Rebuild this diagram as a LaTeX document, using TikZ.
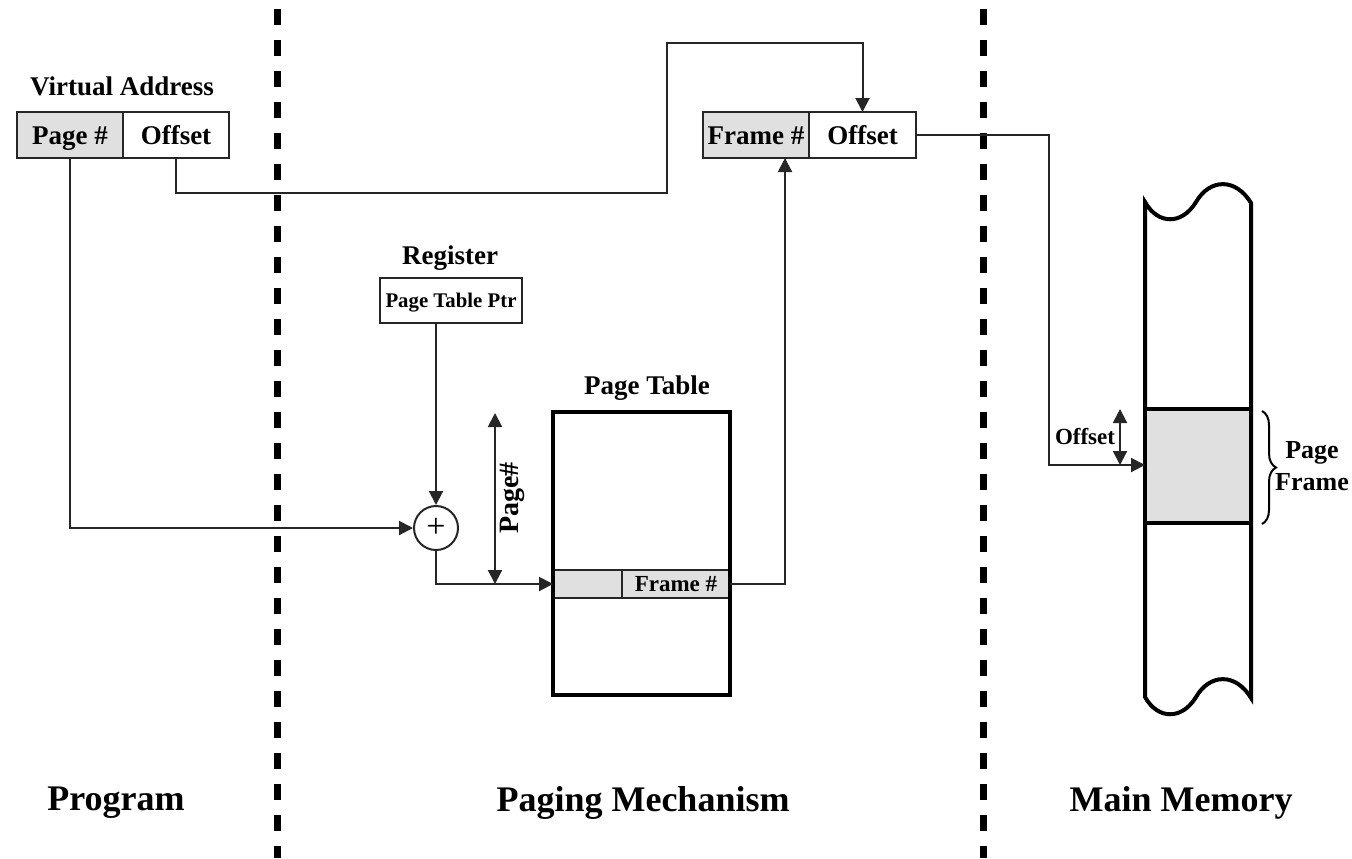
\documentclass[tikz,border=0pt]{standalone}
\usepackage{fontspec}
\setmainfont{Liberation Serif}
\usepackage{tikz}
\usetikzlibrary{arrows.meta,decorations.pathreplacing}
\newcommand{\fmain}{\fontsize{13.5}{16}\selectfont\bfseries}
\newcommand{\fsmall}{\fontsize{11.5}{14}\selectfont\bfseries}
\newcommand{\ftiny}{\fontsize{10.4}{12}\selectfont\bfseries}
\newcommand{\fbig}{\fontsize{18}{21}\selectfont\bfseries}
\tikzset{
  fld/.style={draw=black!85, line width=1pt, minimum width=53pt, minimum height=23pt,
              inner sep=1pt, outer sep=0pt, text height=9pt, text depth=0pt, font=\fmain},
  key/.style={fld, fill=black!12},
  sig/.style={-{Triangle[length=7pt,width=7pt]}, line width=1pt, draw=black!85},
  dsig/.style={sig, {Triangle[length=7pt,width=7pt]}-{Triangle[length=7pt,width=7pt]}},
  lab/.style={font=\fmain, inner sep=0pt},
  sect/.style={font=\fbig, inner sep=0pt},
  divider/.style={line width=3.5pt, dash pattern=on 8pt off 7.5pt},
  frm/.style={draw=black, line width=2pt},
}

\begin{document}
\begin{tikzpicture}[x=0.5pt, y=-0.5pt]
    \useasboundingbox (0,0) rectangle (1352,858);
    \draw[divider] (277,9) -- (277,858);
    \draw[divider] (983,9) -- (983,858);
    % program side
    \node[lab] (valab) at (122,86) {Virtual Address};
    \node[key] (vpage) at (70,135) {Page \#};
    \node[fld] (voff) at (176,135) {Offset};
    % paging mechanism
    \node[lab] (reglab) at (450,258) {Register};
    \node[fld, minimum width=71pt, minimum height=22.5pt, text height=6.9pt, font=\ftiny] (reg) at (451,300.5) {Page Table Ptr};
    \node[draw=black!85, line width=1pt, circle, minimum size=22pt, inner sep=0pt,
          font=\fontsize{17}{17}\selectfont] (adder) at (436,528) {+};
    \node[lab] (ptlab) at (647,388) {Page Table};
    \node[key, minimum width=34.5pt, minimum height=14pt] (prow1) at (587.5,584) {};
    \node[key, minimum width=54pt, minimum height=14pt, text height=7.6pt, font=\fsmall] (prow2) at (676,584) {Frame \#};
    \node[frm, minimum width=88.5pt, minimum height=141.5pt, outer sep=0pt] (ptab) at (641.5,553.5) {};
    \node[key] (fpage) at (756,135) {Frame \#};
    \node[fld, minimum width=53.5pt] (foff) at (862.5,135) {Offset};
    \coordinate (pnum) at (495,413);
    \node[lab, rotate=90, font=\fontsize{14}{16}\selectfont\bfseries] (pnumlab) at (512,498) {Page\#};
    % main memory
    \draw[frm, fill=white] (1145,202) .. controls (1158,225) and (1182,225) .. (1196,202)
        .. controls (1210,178) and (1236,178) .. (1251,203) -- (1251,698)
        .. controls (1236,673) and (1210,673) .. (1196,697)
        .. controls (1182,720) and (1158,720) .. (1145,697) -- cycle;
    \node[key, frm, fill=black!12, minimum width=53pt, minimum height=57pt] (mframe) at (1198,466) {};
    \draw[line width=1pt, decorate, decoration={brace, amplitude=7pt}] (1262,411) -- (1262,524);
    \node[lab, align=center, font=\fontsize{13}{16}\selectfont\bfseries] (pflab) at (1312,466) {Page\\Frame};
    \coordinate (mjog) at (1049,465);
    \coordinate (otop) at (1120,409);
    \node[lab, font=\fsmall] (mofflab) at (1085,437) {Offset};
    % connectors
    \coordinate (ojog) at (667,193);
    \coordinate (ojog2) at (667,43);
    \coordinate (fup) at (785,0);
    \draw[sig] (vpage.south) |- (adder.west);
    \draw[sig] (voff.south) |- (ojog) -- (ojog2) -| (foff.north);
    \draw[sig] (adder |- reg.south) -- (adder.north);
    \draw[sig] (adder.south) |- (prow1.west);
    \draw[dsig] (pnum) -- (pnum |- prow1.west);
    \draw[sig] (prow2.east) -| (fup |- fpage.south);
    \draw[sig] (foff.east) -| (mjog) -- (mjog -| mframe.west);
    \draw[dsig] (otop) -- (otop |- mjog);
    % section names
    \node[sect] (prog) at (116,803) {Program};
    \node[sect] (pagmech) at (643,803) {Paging Mechanism};
    \node[sect] (mainmem) at (1181,803) {Main Memory};
\end{tikzpicture}
\end{document}
